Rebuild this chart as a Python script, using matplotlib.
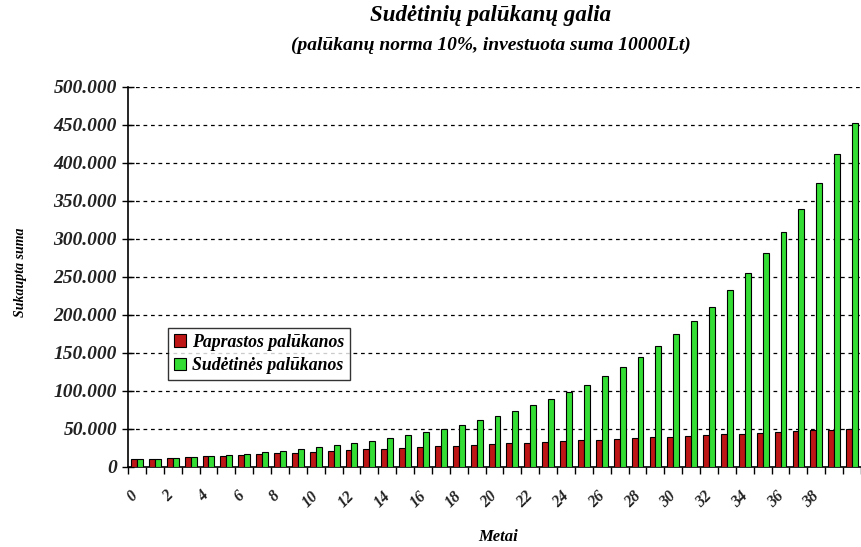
import matplotlib
matplotlib.use("Agg")
import matplotlib.pyplot as plt
import numpy as np
from matplotlib.ticker import FuncFormatter
from matplotlib.transforms import ScaledTranslation

# metai 0..40
years = list(range(41))
simple = [10000, 11000, 12000, 13000, 14000, 15000, 16000, 17000, 18000, 19000,
          20000, 21000, 22000, 23000, 24000, 25000, 26000, 27000, 28000, 29000,
          30000, 31000, 32000, 33000, 34000, 35000, 36000, 37000, 38000, 39000,
          40000, 41000, 42000, 43000, 44000, 45000, 46000, 47000, 48000, 49000,
          50000]
compound = [10000, 11000, 12100, 13310, 14641, 16105, 17716, 19487, 21436, 23579,
            25937, 28531, 31384, 34523, 37975, 41772, 45950, 50545, 55599, 61159,
            67275, 74002, 81403, 89543, 98497, 108347, 119182, 131100, 144210, 158631,
            174494, 191943, 211138, 232252, 255477, 281024, 309127, 340039, 374043, 411448,
            452593]
y_ticks = [0, 50000, 100000, 150000, 200000, 250000, 300000, 350000, 400000, 450000, 500000]
x_labels = [str(y) if y % 2 == 0 and y < 40 else "" for y in years]

font = "Liberation Serif"
red = "#BE1616"
green = "#33DD33"

fig = plt.figure(figsize=(8.61, 5.47), dpi=100)
ax = fig.add_axes([0.1487, 0.1463, 0.8513, 0.6947])

x = np.arange(len(years))
w = 0.33
ax.bar(x - w / 2, simple, w, color=red, edgecolor="black", linewidth=0.8,
       label="Paprastos palūkanos", zorder=3)
ax.bar(x + w / 2, compound, w, color=green, edgecolor="black", linewidth=0.8,
       label="Sudėtinės palūkanos", zorder=3)

ax.set_xlim(-0.5, 40.1)
ax.set_ylim(0, 500000)
ax.set_yticks(y_ticks)
ax.yaxis.set_major_formatter(FuncFormatter(lambda v, p: "{:,.0f}".format(v).replace(",", ".")))
for t in y_ticks[1:]:
    ax.axhline(t, color="black", linestyle=(0, (3, 3)), linewidth=0.9, zorder=1)

ax.set_xticks(x)
ax.set_xticklabels(x_labels, rotation=45, ha="center", va="top")
ax.set_xticks(np.arange(-0.5, 40.6, 1), minor=True)
ax.tick_params(axis="x", which="major", length=0, pad=15)
ax.tick_params(axis="x", which="minor", length=5, width=1, direction="out")
ax.tick_params(axis="y", length=8, width=1, direction="inout", pad=4)

shift = ScaledTranslation(-0.05, 0, fig.dpi_scale_trans)
for lab in ax.get_yticklabels():
    lab.set_fontfamily(font)
    lab.set_fontsize(14)
    lab.set_fontweight("bold")
    lab.set_fontstyle("italic")
    lab.set_color("#222222")
for lab in ax.get_xticklabels():
    lab.set_fontfamily(font)
    lab.set_fontsize(11.5)
    lab.set_fontweight("bold")
    lab.set_fontstyle("italic")
    lab.set_color("#222222")
    lab.set_transform(lab.get_transform() + shift)

ax.spines["top"].set_visible(False)
ax.spines["right"].set_visible(False)
ax.spines["left"].set_linewidth(1.2)
ax.spines["bottom"].set_linewidth(1.2)

leg = ax.legend(loc="upper left", bbox_to_anchor=(0.042, 0.39), frameon=True, fancybox=False,
                handlelength=0.7, handleheight=0.7, handletextpad=0.3, borderpad=0.35,
                labelspacing=0.35, prop={"family": font, "size": 12.8, "weight": "bold", "style": "italic"})
leg.get_frame().set_edgecolor("black")
leg.get_frame().set_linewidth(1.0)
leg.set_zorder(5)

fig.text(0.57, 0.972, "Sudėtinių palūkanų galia", ha="center", va="center",
         fontfamily=font, fontsize=16.5, fontweight="bold", fontstyle="italic")
fig.text(0.57, 0.918, "(palūkanų norma 10%, investuota suma 10000Lt)", ha="center", va="center",
         fontfamily=font, fontsize=14, fontweight="bold", fontstyle="italic")
fig.text(0.024, 0.503, "Sukaupta suma", ha="center", va="center", rotation=90,
         fontfamily=font, fontsize=10, fontweight="bold", fontstyle="italic")
fig.text(0.578, 0.018, "Metai", ha="center", va="center",
         fontfamily=font, fontsize=12, fontweight="bold", fontstyle="italic")

fig.savefig("out.png", dpi=100)
